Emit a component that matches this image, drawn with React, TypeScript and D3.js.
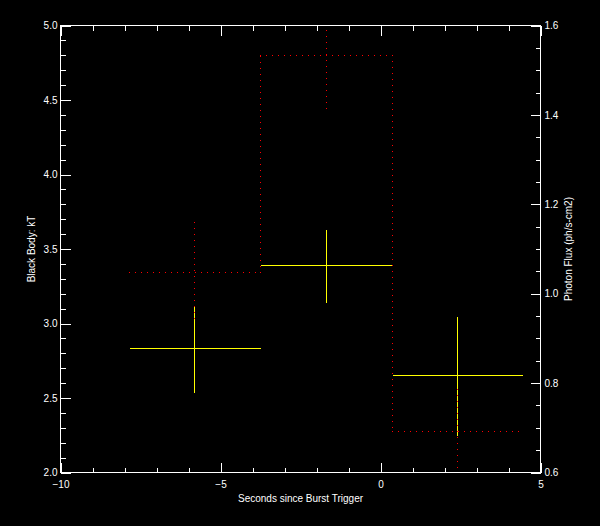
import React, { useEffect, useRef } from 'react';
import * as d3 from 'd3';

// time bins (seconds since trigger)
const binStart = [-7.84, -3.75, 0.36];
const binEnd = [-3.75, 0.36, 4.45];
const binCenter = [-5.8, -1.68, 2.42];

// black body kT (left axis)
const kT = [2.83, 3.387, 2.649];
const kTErr = [0.29, 0.244, 0.4];

// photon flux (right axis)
const flux = [1.047, 1.534, 0.691];
const fluxErr = [0.112, 0.121, 0.095];

const FONT = '"Liberation Sans", Arial, sans-serif';

// pixel dots every 6px along an axis-aligned segment (IDL-style dotted line)
const dotsAlong = (x0: number, y0: number, x1: number, y1: number) => {
  const len = Math.max(Math.abs(x1 - x0), Math.abs(y1 - y0));
  const n = Math.floor(len / 6);
  const pts: [number, number][] = [];
  for (let k = 0; k <= n; k++) {
    const t = len === 0 ? 0 : (k * 6) / len;
    pts.push([Math.round(x0 + (x1 - x0) * t), Math.round(y0 + (y1 - y0) * t)]);
  }
  return pts;
};

const App = () => {
  const svgRef = useRef<SVGSVGElement | null>(null);

  useEffect(() => {
    document.body.style.margin = '0';
    document.body.style.background = '#000';

    const svg = d3.select(svgRef.current);
    svg.selectAll('*').remove();

    const left = 60, right = 540, top = 25, bottom = 472;

    const x = d3.scaleLinear().domain([-10, 5]).range([left, right]);
    const yL = d3.scaleLinear().domain([2, 5]).range([bottom, top]);
    const yR = d3.scaleLinear().domain([0.6, 1.6]).range([bottom, top]);

    svg.append('defs').append('clipPath').attr('id', 'plotclip')
      .append('rect')
      .attr('x', left).attr('y', top)
      .attr('width', right - left + 1).attr('height', bottom - top + 1);

    const g = svg.append('g').attr('transform', 'translate(0.5,0.5)');

    const styleAxis = (sel: d3.Selection<SVGGElement, unknown, null, undefined>) => {
      sel.select('.domain').remove();
      sel.selectAll('line').attr('stroke', '#fff').attr('shape-rendering', 'crispEdges');
      sel.selectAll('text')
        .attr('fill', '#fff')
        .style('font-family', FONT)
        .style('font-size', '10px');
    };

    // frame
    g.append('rect')
      .attr('x', left).attr('y', top)
      .attr('width', right - left).attr('height', bottom - top)
      .attr('fill', 'none').attr('stroke', '#fff')
      .attr('shape-rendering', 'crispEdges');

    // bottom axis
    g.append('g').attr('transform', `translate(0,${bottom})`)
      .call(d3.axisBottom(x).tickValues(d3.range(-10, 6, 1)).tickSize(-5).tickFormat(() => ''))
      .call(styleAxis);
    g.append('g').attr('transform', `translate(0,${bottom})`)
      .call(d3.axisBottom(x).tickValues([-10, -5, 0, 5]).tickSize(-10).tickPadding(8).tickFormat(d3.format('d')))
      .call(styleAxis);

    // top axis
    g.append('g').attr('transform', `translate(0,${top})`)
      .call(d3.axisTop(x).tickValues(d3.range(-10, 6, 1)).tickSize(-5).tickFormat(() => ''))
      .call(styleAxis);
    g.append('g').attr('transform', `translate(0,${top})`)
      .call(d3.axisTop(x).tickValues([-10, -5, 0, 5]).tickSize(-10).tickFormat(() => ''))
      .call(styleAxis);

    // left axis
    g.append('g').attr('transform', `translate(${left},0)`)
      .call(d3.axisLeft(yL).tickValues(d3.range(20, 51, 1).map(v => v / 10)).tickSize(-5).tickFormat(() => ''))
      .call(styleAxis);
    g.append('g').attr('transform', `translate(${left},0)`)
      .call(d3.axisLeft(yL).tickValues([2, 2.5, 3, 3.5, 4, 4.5, 5]).tickSize(-10).tickPadding(3).tickFormat(d3.format('.1f')))
      .call(styleAxis);

    // right axis
    g.append('g').attr('transform', `translate(${right},0)`)
      .call(d3.axisRight(yR).tickValues(d3.range(12, 33, 1).map(v => v / 20)).tickSize(-5).tickFormat(() => ''))
      .call(styleAxis);
    g.append('g').attr('transform', `translate(${right},0)`)
      .call(d3.axisRight(yR).tickValues([0.6, 0.8, 1.0, 1.2, 1.4, 1.6]).tickSize(-10).tickPadding(4).tickFormat(d3.format('.1f')))
      .call(styleAxis);

    // axis titles
    g.append('text')
      .attr('x', (left + right) / 2).attr('y', 501)
      .attr('text-anchor', 'middle')
      .attr('fill', '#fff').style('font-family', FONT).style('font-size', '10px')
      .text('Seconds since Burst Trigger');
    g.append('text')
      .attr('transform', `translate(34,${(top + bottom) / 2}) rotate(-90)`)
      .attr('text-anchor', 'middle')
      .attr('fill', '#fff').style('font-family', FONT).style('font-size', '10px')
      .text('Black Body: kT');
    g.append('text')
      .attr('transform', `translate(571,${(top + bottom) / 2}) rotate(-90)`)
      .attr('text-anchor', 'middle')
      .attr('fill', '#fff').style('font-family', FONT).style('font-size', '10px')
      .text('Photon Flux (ph/s-cm2)');

    // flux histogram + error bars as red pixel dots
    const segs: [number, number, number, number][] = [];
    binStart.forEach((s, i) => {
      segs.push([x(s), yR(flux[i]), x(binEnd[i]), yR(flux[i])]);
      if (i < binStart.length - 1) {
        segs.push([x(binEnd[i]), yR(flux[i]), x(binEnd[i]), yR(flux[i + 1])]);
      }
    });
    binCenter.forEach((c, i) => {
      segs.push([x(c), yR(flux[i] + fluxErr[i]), x(c), yR(flux[i] - fluxErr[i])]);
    });
    const dots = segs.flatMap(s => dotsAlong(Math.round(s[0]), Math.round(s[1]), Math.round(s[2]), Math.round(s[3])));

    svg.append('g').attr('clip-path', 'url(#plotclip)')
      .selectAll('rect')
      .data(dots)
      .join('rect')
      .attr('x', d => d[0]).attr('y', d => d[1])
      .attr('width', 1).attr('height', 1)
      .attr('fill', '#ff0000')
      .attr('shape-rendering', 'crispEdges');

    const plot = g.append('g').attr('clip-path', 'url(#plotclip)');

    // kT crosses (yellow)
    plot.selectAll('line.kth')
      .data(binCenter)
      .join('line')
      .attr('class', 'kth')
      .attr('x1', (d, i) => Math.round(x(binStart[i])))
      .attr('x2', (d, i) => Math.round(x(binEnd[i])))
      .attr('y1', (d, i) => Math.round(yL(kT[i])))
      .attr('y2', (d, i) => Math.round(yL(kT[i])))
      .attr('stroke', '#ffff00')
      .attr('shape-rendering', 'crispEdges');
    plot.selectAll('line.ktv')
      .data(binCenter)
      .join('line')
      .attr('class', 'ktv')
      .attr('x1', d => Math.round(x(d))).attr('x2', d => Math.round(x(d)))
      .attr('y1', (d, i) => Math.round(yL(kT[i] + kTErr[i])))
      .attr('y2', (d, i) => Math.round(yL(kT[i] - kTErr[i])))
      .attr('stroke', '#ffff00')
      .attr('shape-rendering', 'crispEdges');
  }, []);

  return (
    <svg ref={svgRef} width={600} height={526} style={{ display: 'block', background: '#000' }}></svg>
  );
};

export default App;
